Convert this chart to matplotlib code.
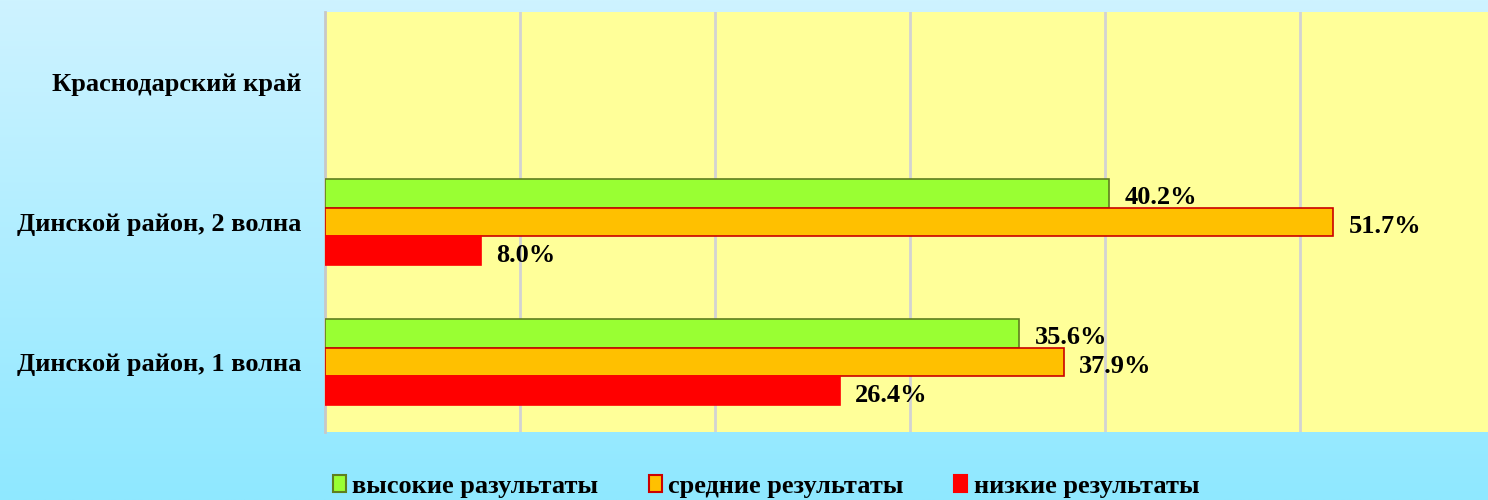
import numpy as np
import matplotlib.pyplot as plt
from matplotlib.patches import Patch

plt.rcParams['font.family'] = ['Liberation Serif', 'DejaVu Serif']
plt.rcParams['font.weight'] = 'bold'

# --- data ---
categories = ['Динской район, 1 волна', 'Динской район, 2 волна', 'Краснодарский край']
high = [35.6, 40.2, np.nan]
mid = [37.9, 51.7, np.nan]
low = [26.4, 8.0, np.nan]
series_names = ['высокие разультаты', 'средние результаты', 'низкие результаты']

face_colors = ['#99FF33', '#FFC000', '#FF0000']
edge_colors = ['#5F7F1F', '#CC0000', '#FF0000']

W, H = 1488, 500
fig = plt.figure(figsize=(W / 100, H / 100), dpi=100)

# background gradient
bg = fig.add_axes([0, 0, 1, 1], zorder=-10)
top = np.array([206, 243, 255]) / 255
bot = np.array([143, 232, 255]) / 255
t = np.linspace(0, 1, 256)[:, None]
grad = top * (1 - t[..., None]) + bot * t[..., None]
grad = np.repeat(grad, 4, axis=1)
bg.imshow(grad, aspect='auto', extent=[0, 1, 0, 1])
bg.axis('off')

ax = fig.add_axes([325 / W, (H - 432) / H, (W - 325) / W, 420 / H])
ax.set_facecolor('#FFFF99')

y = np.arange(len(categories))
bh = 0.207
offsets = [bh, 0, -bh]
for vals, off, fc, ec in zip([high, mid, low], offsets, face_colors, edge_colors):
    ax.barh(y + off, vals, height=bh, color=fc, edgecolor=ec, linewidth=1.2, zorder=3)
    for yy, v in zip(y + off, vals):
        if np.isnan(v):
            continue
        ax.annotate(f'{v:.1f}%', (v, yy), xytext=(11, -3), textcoords='offset points',
                    va='center', ha='left', fontsize=19, fontweight='bold', color='black')

ax.set_xlim(0, 59.64)
ax.set_ylim(-0.5, 2.5)
ax.set_xticks([10, 20, 30, 40, 50])
ax.tick_params(axis='x', length=0, labelbottom=False)
ax.tick_params(axis='y', length=0, pad=17)
ax.set_yticks(y)
ax.set_yticklabels(categories, fontsize=19, fontweight='bold')
ax.grid(axis='x', color='#D3D3D3', linewidth=2, zorder=0)
for s in ['top', 'right', 'bottom']:
    ax.spines[s].set_visible(False)
ax.spines['left'].set_color('#C8C8C8')
ax.spines['left'].set_linewidth(2)

handles = [Patch(facecolor=fc, edgecolor=ec, linewidth=1.5) for fc, ec in zip(face_colors, edge_colors)]
fig.legend(handles, series_names, loc='center', bbox_to_anchor=(766 / W, 1 - 486 / H), ncol=3,
           frameon=False, handlelength=0.5, handleheight=0.6, handletextpad=0.25,
           columnspacing=1.9, prop={'weight': 'bold', 'size': 19})

fig.savefig('out.png', dpi=100)
